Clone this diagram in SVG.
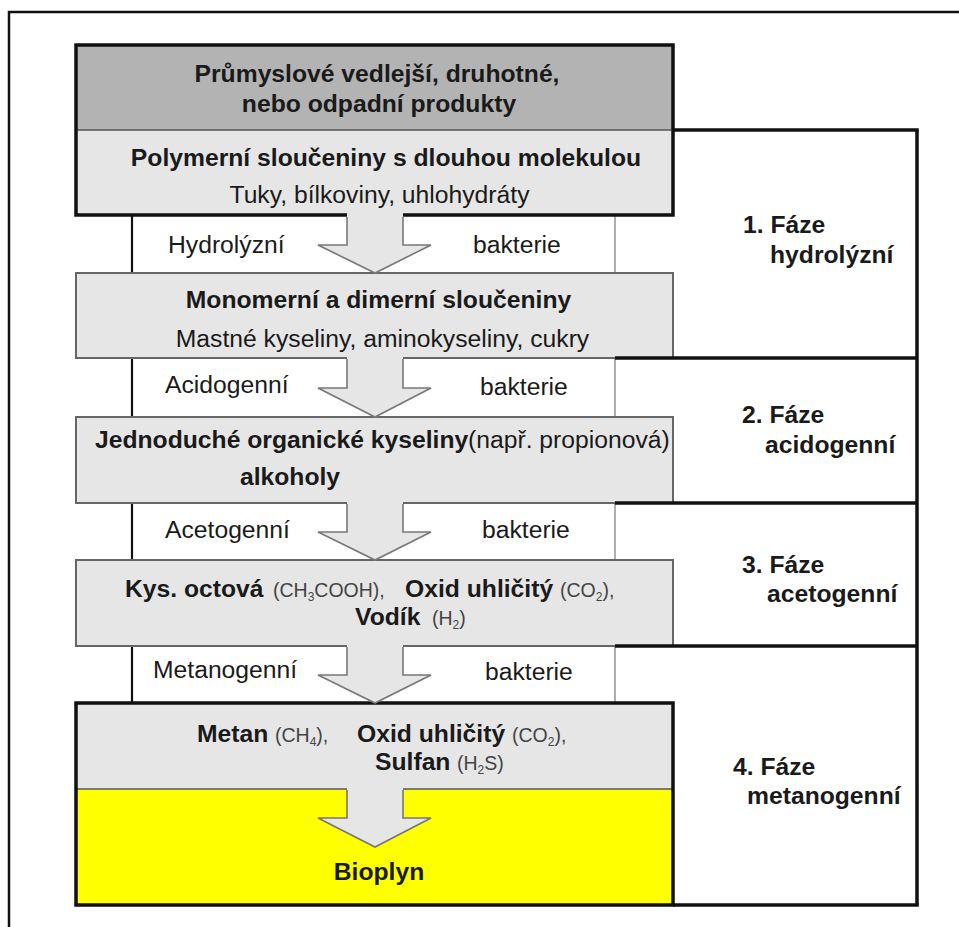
<svg xmlns="http://www.w3.org/2000/svg" width="959" height="927" viewBox="0 0 959 927">
<style>
.t{font-family:"Liberation Sans",Arial,sans-serif;font-size:24.7px;fill:#1a1a1a}
.b{font-weight:bold}
.s{font-size:19.5px;fill:#444;font-weight:normal}
.sub{font-size:12px}
.box{fill:#e6e6e6;stroke:#666;stroke-width:2}
.band{fill:#fff;stroke:none}
.bl{stroke:#111;stroke-width:2.2}
.br{stroke:#9a9a9a;stroke-width:1.6}
.af{fill:#e6e6e6;stroke:none}
.ao{fill:none;stroke:#777;stroke-width:1.6;stroke-linejoin:miter}
.ph{stroke:#111;stroke-width:3.5;fill:none}
.thick{fill:none;stroke:#111;stroke-width:3.5}
.div{stroke:#555;stroke-width:1.6}
</style>
<rect width="959" height="927" fill="#fff"/>
<path d="M9,927 V12 H959" fill="none" stroke="#111" stroke-width="2.5"/>

<g id="bands">
<rect class="band" x="132" y="215" width="483" height="58"/>
<rect class="band" x="132" y="358" width="483" height="59"/>
<rect class="band" x="132" y="503" width="483" height="57"/>
<rect class="band" x="132" y="646" width="483" height="57"/>
<line class="bl" x1="132" y1="215" x2="132" y2="273"/>
<line class="bl" x1="132" y1="358" x2="132" y2="417"/>
<line class="bl" x1="132" y1="503" x2="132" y2="560"/>
<line class="bl" x1="132" y1="646" x2="132" y2="703"/>
<line class="br" x1="615" y1="215" x2="615" y2="273"/>
<line class="br" x1="615" y1="358" x2="615" y2="417"/>
<line class="br" x1="615" y1="503" x2="615" y2="560"/>
<line class="br" x1="615" y1="646" x2="615" y2="703"/>
</g>

<g id="node-source">
<rect x="76" y="45" width="597" height="85" fill="#b3b3b3"/>
<text class="t b" x="377" y="82" text-anchor="middle">Průmyslové vedlejší, druhotné,</text>
<text class="t b" x="379" y="112" text-anchor="middle">nebo odpadní produkty</text>
</g>
<g id="node-polymer">
<rect x="76" y="130" width="597" height="85" fill="#e6e6e6"/>
<line class="div" x1="76" y1="130" x2="673" y2="130"/>
<rect class="thick" x="76" y="45" width="597" height="170"/>
<text class="t b" x="386" y="166" text-anchor="middle">Polymerní sloučeniny s dlouhou molekulou</text>
<text class="t" x="379.5" y="203" text-anchor="middle">Tuky, bílkoviny, uhlohydráty</text>
</g>
<g id="node-monomer">
<rect class="box" x="76" y="273" width="597" height="85"/>
<text class="t b" x="378.5" y="308" text-anchor="middle">Monomerní a dimerní sloučeniny</text>
<text class="t" x="382.5" y="347" text-anchor="middle">Mastné kyseliny, aminokyseliny, cukry</text>
</g>
<g id="node-acids">
<rect class="box" x="76" y="417" width="597" height="86"/>
<text class="t" x="95" y="448"><tspan class="b">Jednoduché organické kyseliny</tspan><tspan x="468">(např. propionová)</tspan></text>
<text class="t b" x="290" y="485" text-anchor="middle">alkoholy</text>
</g>
<g id="node-acetic">
<rect class="box" x="76" y="560" width="597" height="86"/>
<text class="t" y="597"><tspan class="b" x="125">Kys. octová</tspan><tspan class="s" x="273">(CH<tspan class="sub" dy="4">3</tspan><tspan dy="-4">COOH),</tspan></tspan><tspan class="b" x="405">Oxid uhličitý</tspan><tspan class="s" x="560">(CO<tspan class="sub" dy="4">2</tspan><tspan dy="-4">),</tspan></tspan></text>
<text class="t" y="625"><tspan class="b" x="355">Vodík</tspan><tspan class="s" x="432">(H<tspan class="sub" dy="4">2</tspan><tspan dy="-4">)</tspan></tspan></text>
</g>
<g id="node-methane">
<rect x="76" y="703" width="597" height="86" fill="#e6e6e6"/>
<text class="t" y="742"><tspan class="b" x="197">Metan</tspan><tspan class="s" x="275">(CH<tspan class="sub" dy="4">4</tspan><tspan dy="-4">),</tspan></tspan><tspan class="b" x="357">Oxid uhličitý</tspan><tspan class="s" x="512">(CO<tspan class="sub" dy="4">2</tspan><tspan dy="-4">),</tspan></tspan></text>
<text class="t" y="770"><tspan class="b" x="375">Sulfan</tspan><tspan class="s" x="457">(H<tspan class="sub" dy="4">2</tspan><tspan dy="-4">S)</tspan></tspan></text>
</g>
<g id="node-biogas">
<rect x="76" y="789" width="597" height="116" fill="#ffff00"/>
<line class="div" x1="76" y1="789" x2="673" y2="789"/>
<rect class="thick" x="76" y="703" width="597" height="202"/>
</g>

<g id="connectors">
<polygon class="af" points="347,213 347,245 318,245 375,273 431,245 403,245 403,213"/>
<polyline class="ao" points="347,217 347,245 318,245 375,273 431,245 403,245 403,217"/>
<polygon class="af" points="347,356.5 347,388 318,388 375,417 431,388 403,388 403,356.5"/>
<polyline class="ao" points="347,359 347,388 318,388 375,417 431,388 403,388 403,359"/>
<polygon class="af" points="347,501.5 347,532 318,532 375,560 431,532 403,532 403,501.5"/>
<polyline class="ao" points="347,504 347,532 318,532 375,560 431,532 403,532 403,504"/>
<polygon class="af" points="347,644.5 347,675 318,675 375,703 431,675 403,675 403,644.5"/>
<polyline class="ao" points="347,647 347,675 318,675 375,703 431,675 403,675 403,647"/>
<polygon class="af" points="347,788 347,818 318,818 375,847 431,818 403,818 403,788"/>
<polyline class="ao" points="347,790 347,818 318,818 375,847 431,818 403,818 403,790" stroke="#666"/>
</g>

<g id="phases">
<line class="ph" x1="673" y1="130" x2="918.75" y2="130"/>
<line class="ph" x1="917" y1="130" x2="917" y2="905"/>
<line class="ph" x1="615" y1="358" x2="917" y2="358"/>
<line class="ph" x1="615" y1="503" x2="917" y2="503"/>
<line class="ph" x1="615" y1="646" x2="917" y2="646"/>
<line class="ph" x1="673" y1="905" x2="918.75" y2="905"/>
</g>

<g id="labels">
<text class="t" x="168" y="253">Hydrolýzní</text>
<text class="t" x="473" y="253">bakterie</text>
<text class="t" x="165" y="393">Acidogenní</text>
<text class="t" x="480" y="395">bakterie</text>
<text class="t" x="165" y="538">Acetogenní</text>
<text class="t" x="482" y="538">bakterie</text>
<text class="t" x="153" y="678">Metanogenní</text>
<text class="t" x="485" y="680">bakterie</text>
<text class="t b" x="379" y="880" text-anchor="middle">Bioplyn</text>
</g>

<g id="phase-labels">
<text class="t b" x="743" y="233">1. Fáze</text>
<text class="t b" x="770" y="263">hydrolýzní</text>
<text class="t b" x="742" y="423">2. Fáze</text>
<text class="t b" x="765" y="453">acidogenní</text>
<text class="t b" x="742" y="573">3. Fáze</text>
<text class="t b" x="767" y="602">acetogenní</text>
<text class="t b" x="733" y="775">4. Fáze</text>
<text class="t b" x="747" y="804">metanogenní</text>
</g>
</svg>
